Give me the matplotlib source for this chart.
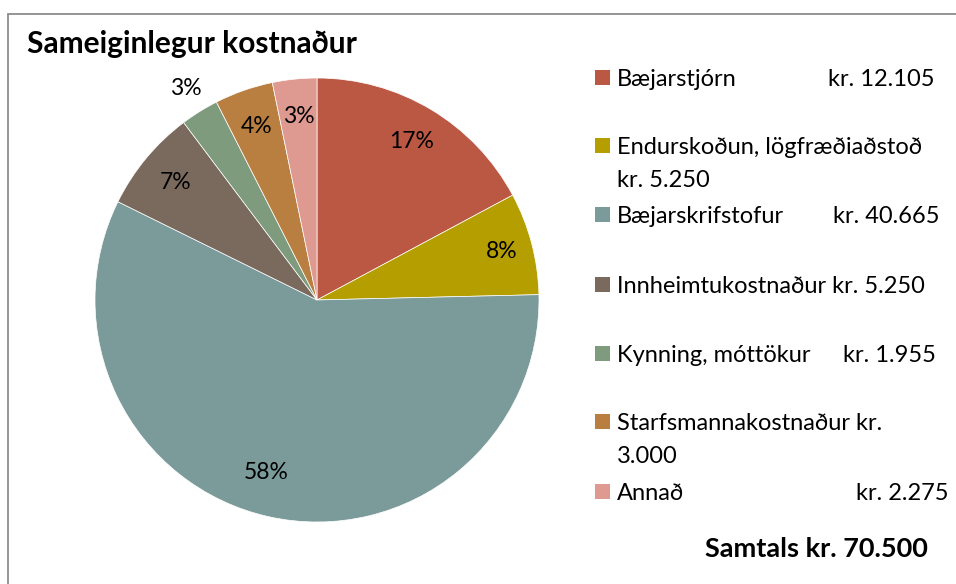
import matplotlib
matplotlib.use("Agg")
import matplotlib.pyplot as plt
import matplotlib.patches as mpatches
import numpy as np

plt.rcParams['font.family'] = ['Lato', 'DejaVu Sans']

title = "Sameiginlegur kostnaður"
categories = ["Bæjarstjórn", "Endurskoðun, lögfræðiaðstoð", "Bæjarskrifstofur",
              "Innheimtukostnaður", "Kynning, móttökur", "Starfsmannakostnaður", "Annað"]
values = [12105, 5250, 40665, 5250, 1955, 3000, 2275]
value_labels = ["kr. 12.105", "kr. 5.250", "kr. 40.665", "kr. 5.250", "kr. 1.955", "kr. 3.000", "kr. 2.275"]
pct_labels = ["17%", "8%", "58%", "7%", "3%", "4%", "3%"]
total_label = "Samtals kr. 70.500"
colors = ["#BA5843", "#B59E00", "#7B9A9A", "#7A6A5E", "#7E9B7D", "#B87F40", "#DE9A91"]

W, H = 956, 584
fig = plt.figure(figsize=(W / 100, H / 100), dpi=100)

def px(x, y):
    return (x / W, 1 - y / H)

# outer border
fig.patches.append(mpatches.Rectangle(px(7.5, 700), 2, (700 - 13.5) / H,
                                      transform=fig.transFigure, fill=False,
                                      edgecolor="#8c8c8c", linewidth=1.3))

# pie axes
cx, cy, r = 317, 300, 222
ax = fig.add_axes([(cx - r) / W, (H - cy - r) / H, 2 * r / W, 2 * r / H])
wedges, _ = ax.pie(values, colors=colors, startangle=90, counterclock=False,
                   radius=1, wedgeprops=dict(edgecolor="white", linewidth=0.5))
ax.set_xlim(-1, 1)
ax.set_ylim(-1, 1)
ax.set_aspect("equal")
ax.axis("off")

label_r = [0.83, 0.86, 0.81, 0.83, 1.12, 0.83, 0.83]
label_shift = [0, 0, 4, 0, 0, 0, 0]  # degrees, extra clockwise offset
fracs = np.array(values) / np.sum(values)
cum = np.cumsum(fracs) - fracs / 2
for frac_mid, lab, rr, sh in zip(cum, pct_labels, label_r, label_shift):
    ang = np.deg2rad(90 - 360 * frac_mid - sh)
    ax.text(rr * np.cos(ang), rr * np.sin(ang), lab, ha="center", va="center",
            fontsize=16.5, color="black")

# title
fig.text(*px(27, 53), title, fontsize=21.5, fontweight="bold", ha="left", va="baseline")

# legend (manual)
fs = 17
rows = [
    # (baseline y, index, x of value text, mode, y of 2nd line)
    (86, 0, 828, "tab", None),
    (154, 1, None, "wrap", 187),
    (223, 2, 833, "tab", None),
    (293, 3, None, "inline", None),
    (362, 4, 843, "tab", None),
    (430, 5, None, "wrapnum", 463),
    (500, 6, 856, "tab", None),
]
for y, i, vx, mode, y2 in rows:
    fig.patches.append(mpatches.Rectangle(px(595, y - 1), 15 / W, 15 / H,
                                          transform=fig.transFigure,
                                          facecolor=colors[i], edgecolor="none"))
    if mode == "tab":
        fig.text(*px(617, y), categories[i], fontsize=fs, ha="left", va="baseline")
        fig.text(*px(vx, y), value_labels[i], fontsize=fs, ha="left", va="baseline")
    elif mode == "inline":
        fig.text(*px(617, y), categories[i] + " " + value_labels[i], fontsize=fs,
                 ha="left", va="baseline")
    elif mode == "wrap":
        fig.text(*px(617, y), categories[i], fontsize=fs, ha="left", va="baseline")
        fig.text(*px(617, y2), value_labels[i], fontsize=fs, ha="left", va="baseline")
    else:
        kr, num = value_labels[i].split(" ")
        fig.text(*px(617, y), categories[i] + " " + kr, fontsize=fs, ha="left", va="baseline")
        fig.text(*px(617, y2), num, fontsize=fs, ha="left", va="baseline")

fig.text(*px(928, 557), total_label, fontsize=19.5, fontweight="bold", ha="right", va="baseline")

fig.savefig("out.png", dpi=100)
